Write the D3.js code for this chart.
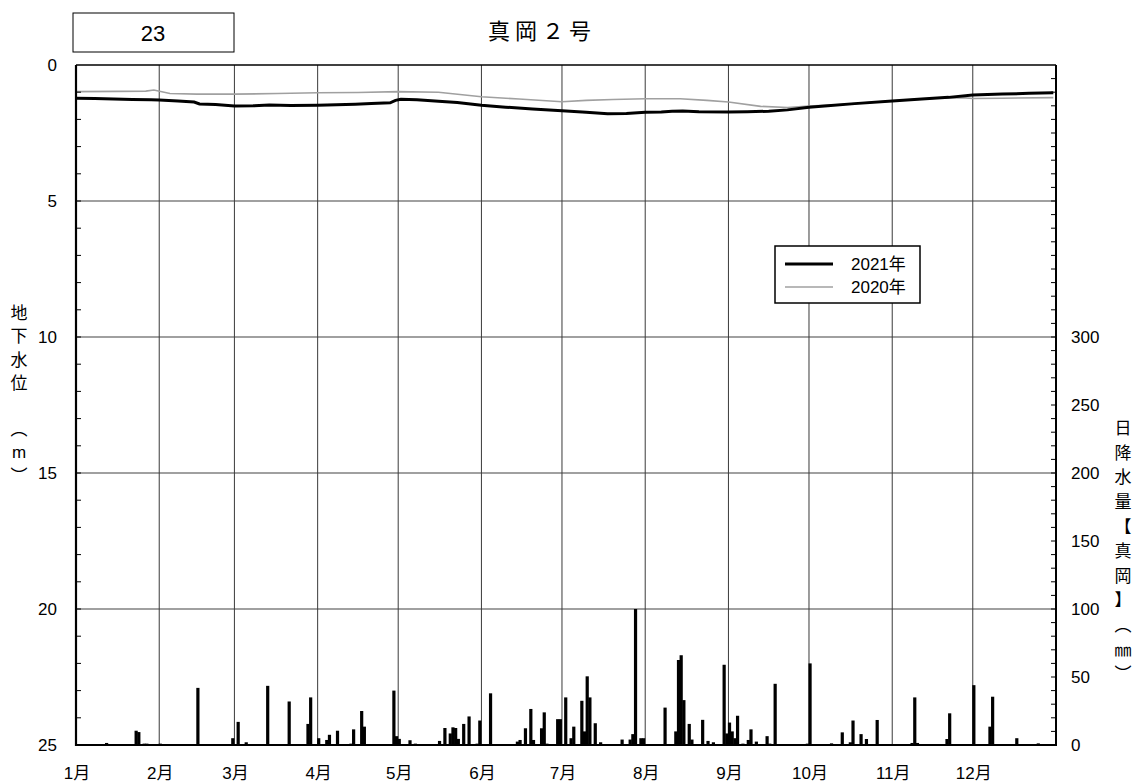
<!DOCTYPE html>
<html>
<head>
<meta charset="utf-8">
<script src="https://cdn.jsdelivr.net/npm/d3@7"></script>
<style>
  html, body { margin: 0; padding: 0; background: #fff; }
  svg { display: block; font-family: "Liberation Sans", "Noto Sans CJK JP", sans-serif; }
</style>
</head>
<body>
<svg id="chart" width="1135" height="783"></svg>
<script>
// ---------------- DATA ----------------
const monthLabels = ["1月","2月","3月","4月","5月","6月","7月","8月","9月","10月","11月","12月"];
const depthTicks = [0, 5, 10, 15, 20, 25];
const rainTicks = [0, 50, 100, 150, 200, 250, 300];

// groundwater depth (m), day-of-year index (0 = Jan 1)
const level2021Days = [0,7,14,21,28,31,38,44,46,52,59,66,72,80,90,97,104,110,117,119,121,127,135,142,151,160,170,181,190,198,205,212,218,222,226,232,243,250,258,265,273,280,290,304,315,325,334,345,355,364];
const level2021Vals = [1.22,1.23,1.25,1.27,1.28,1.29,1.32,1.36,1.43,1.45,1.51,1.50,1.47,1.49,1.48,1.46,1.44,1.42,1.39,1.30,1.26,1.28,1.33,1.38,1.48,1.55,1.62,1.68,1.74,1.79,1.78,1.74,1.73,1.70,1.69,1.72,1.73,1.72,1.70,1.65,1.55,1.50,1.42,1.32,1.25,1.19,1.10,1.07,1.04,1.02];

const level2020Days = [0,15,26,29,35,45,59,75,90,105,120,135,151,165,181,190,200,212,225,235,243,255,265,273,285,304,320,330,334,345,364];
const level2020Vals = [0.98,0.97,0.96,0.92,1.05,1.07,1.07,1.05,1.02,1.01,0.98,1.00,1.17,1.25,1.35,1.30,1.27,1.24,1.24,1.30,1.36,1.52,1.56,1.51,1.45,1.32,1.22,1.20,1.23,1.22,1.20];

// daily precipitation (mm), day-of-year index
const rainDays = [11,22,23,25,26,31,45,58,60,63,71,79,86,87,90,93,94,97,102,103,106,107,118,119,120,124,126,135,137,139,140,141,142,144,146,149,150,154,156,158,164,165,167,169,170,173,174,175,179,180,182,184,185,188,189,190,191,193,195,203,206,207,208,210,211,219,223,224,225,226,228,229,233,235,237,241,242,243,244,245,246,248,250,251,253,257,258,260,264,272,273,281,285,288,289,292,294,298,304,311,312,313,324,325,334,340,341,350,358];
const rainVals = [1.5,10.5,9.5,1,1,1,42,5,17,2,43.5,32,15.5,35,5,3.7,7.5,10.5,1,11.5,25,13.5,40,6.5,4.5,3.5,1,3,12.5,8.5,13,12.5,4.5,15.5,21,1,18,38,0.5,0.5,2.5,3.7,12.3,26.5,3.7,12.3,24,1,19,19,35,5,13.5,32.5,10,50.5,35,16,2,4,4,8,100,5,5,27.5,10,62.5,66,33,15.5,4,18.5,3,2,59,8.5,16.5,10,5,21.5,1,3.7,11.5,2.5,6.5,1,45,0.5,1,60,1.2,9.3,2,18,8,4.4,18.4,0.5,1.5,35,1.5,4.4,23.3,44,13.5,35.5,5,1.2];

const titleText = "真岡２号";
const boxText = "23";
const leftLabelChars = ["地","下","水","位","","︵","m","︶"];
const rightLabelChars = ["日","降","水","量","【","真","岡","】","︵","㎜","︶"];
const legendLabels = ["2021年","2020年"];

// ---------------- LAYOUT ----------------
const svg = d3.select("#chart");
const L = 76, R = 1056, T = 65, B = 745;

const t0 = Date.UTC(2021,0,1), t1 = Date.UTC(2022,0,1);
const x = d3.scaleUtc().domain([new Date(t0), new Date(t1)]).range([L, R]);
const dayDate = d => new Date(t0 + d * 86400000);
const y = d3.scaleLinear().domain([0, 25]).range([T, B]);
const yr = d3.scaleLinear().domain([0, 500]).range([B, T]);

// gridlines: horizontal
svg.append("g").selectAll("line").data([5,10,15,20]).join("line")
  .attr("x1", L).attr("x2", R).attr("y1", d => y(d)).attr("y2", d => y(d))
  .attr("stroke", "#808080").attr("stroke-width", 1.3);

// gridlines: vertical months
const months = d3.utcMonth.range(new Date(t0), new Date(t1));
svg.append("g").selectAll("line").data(months.slice(1)).join("line")
  .attr("x1", d => x(d)).attr("x2", d => x(d)).attr("y1", T).attr("y2", B)
  .attr("stroke", "#3a3a3a").attr("stroke-width", 1);

// rain bars
const rain = rainDays.map((d, i) => ({ d, v: rainVals[i] }));
svg.append("g").selectAll("rect").data(rain).join("rect")
  .attr("x", d => x(dayDate(d.d + 0.4)) - 1.6)
  .attr("width", 3.2)
  .attr("y", d => yr(d.v))
  .attr("height", d => B - yr(d.v))
  .attr("fill", "#000");

// level lines
const line = d3.line().x(d => x(dayDate(d[0]))).y(d => y(d[1]));
const l2020 = level2020Days.map((d, i) => [d, level2020Vals[i]]);
const l2021 = level2021Days.map((d, i) => [d, level2021Vals[i]]);
svg.append("path").attr("d", line(l2020)).attr("fill", "none")
  .attr("stroke", "#a0a0a0").attr("stroke-width", 1.6);
svg.append("path").attr("d", line(l2021)).attr("fill", "none")
  .attr("stroke", "#000").attr("stroke-width", 3);

// left minor ticks (every 1 m, inward)
svg.append("g").selectAll("line").data(d3.range(1, 25)).join("line")
  .attr("x1", L).attr("x2", L + 5).attr("y1", d => y(d)).attr("y2", d => y(d))
  .attr("stroke", "#000").attr("stroke-width", 1);

// right minor ticks (every 10 mm, inward)
svg.append("g").selectAll("line").data(d3.range(10, 500, 10)).join("line")
  .attr("x1", R - 5).attr("x2", R).attr("y1", d => yr(d)).attr("y2", d => yr(d))
  .attr("stroke", "#000").attr("stroke-width", 1);

// frame
svg.append("line").attr("x1", L).attr("x2", R).attr("y1", T).attr("y2", T).attr("stroke", "#000").attr("stroke-width", 1.5);
svg.append("line").attr("x1", R).attr("x2", R).attr("y1", T).attr("y2", B).attr("stroke", "#000").attr("stroke-width", 2);
svg.append("line").attr("x1", L).attr("x2", L).attr("y1", T).attr("y2", B + 1).attr("stroke", "#000").attr("stroke-width", 2.2);
svg.append("line").attr("x1", L - 1).attr("x2", R + 1).attr("y1", B).attr("y2", B).attr("stroke", "#000").attr("stroke-width", 2.2);

// left tick labels
svg.append("g").selectAll("text").data(depthTicks).join("text")
  .attr("x", 57).attr("y", d => y(d)).attr("dy", "0.36em")
  .attr("text-anchor", "end").attr("font-size", 17).text(d => d);

// right tick labels
svg.append("g").selectAll("text").data(rainTicks).join("text")
  .attr("x", 1071).attr("y", d => yr(d)).attr("dy", "0.36em")
  .attr("text-anchor", "start").attr("font-size", 17).text(d => d);

// month labels
svg.append("g").selectAll("text").data(months).join("text")
  .attr("x", d => x(d) + 1).attr("y", 773).attr("dy", "0.36em")
  .attr("text-anchor", "middle").attr("font-size", 17)
  .text((d, i) => monthLabels[i]);

// left vertical label
svg.append("g").selectAll("text").data(leftLabelChars).join("text")
  .attr("x", 19).attr("y", (d, i) => 313 + i * 23.2).attr("dy", "0.36em")
  .attr("text-anchor", "middle").attr("font-size", 17).text(d => d);

// right vertical label
svg.append("g").selectAll("text").data(rightLabelChars).join("text")
  .attr("x", 1123).attr("y", (d, i) => 428 + i * 24.6).attr("dy", "0.36em")
  .attr("text-anchor", "middle").attr("font-size", 17).text(d => d);

// title
svg.append("text").attr("x", 542).attr("y", 31).attr("dy", "0.36em")
  .attr("text-anchor", "middle").attr("font-size", 22).attr("letter-spacing", 5)
  .attr("font-family", "Noto Sans CJK JP").text(titleText);

// id box
svg.append("rect").attr("x", 73).attr("y", 13).attr("width", 161).attr("height", 39)
  .attr("fill", "#fff").attr("stroke", "#000").attr("stroke-width", 1);
svg.append("text").attr("x", 153).attr("y", 33).attr("dy", "0.36em")
  .attr("text-anchor", "middle").attr("font-size", 22).text(boxText);

// legend
const lg = svg.append("g");
lg.append("rect").attr("x", 775).attr("y", 246).attr("width", 145).attr("height", 57)
  .attr("fill", "#fff").attr("stroke", "#000").attr("stroke-width", 1.5);
const legendStyles = [{ c: "#000", w: 3 }, { c: "#a0a0a0", w: 1.6 }];
legendLabels.forEach((lab, i) => {
  const yy = 264 + i * 23;
  lg.append("line").attr("x1", 785).attr("x2", 833).attr("y1", yy).attr("y2", yy)
    .attr("stroke", legendStyles[i].c).attr("stroke-width", legendStyles[i].w);
  lg.append("text").attr("x", 851).attr("y", yy).attr("dy", "0.36em")
    .attr("font-size", 17).text(lab);
});
</script>
</body>
</html>
